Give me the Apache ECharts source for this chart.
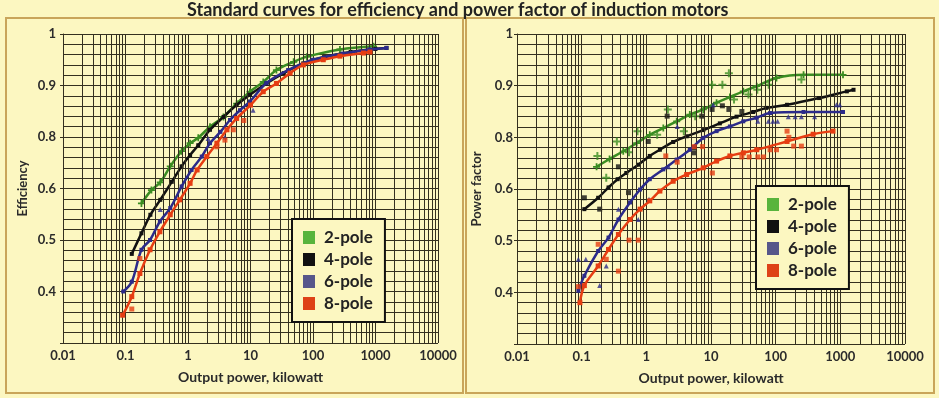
<!DOCTYPE html>
<html><head><meta charset="utf-8">
<script src="https://cdn.jsdelivr.net/npm/echarts@6/dist/echarts.min.js"></script>
<style>html,body{margin:0;padding:0;background:#fcf7c1}#c{width:939px;height:398px}</style>
</head><body><div id="c"></div>
<script>
// ---- data ----
const title = 'Standard curves for efficiency and power factor of induction motors';
const seriesNames = ['2-pole', '4-pole', '6-pole', '8-pole'];
const xTickLabels = ['0.01', '0.1', '1', '10', '100', '1000', '10000'];
const yTickVals = [0.3, 0.4, 0.5, 0.6, 0.8, 0.9, 1.0];
const yTickLabels = ['', '0.4', '0.5', '0.6', '0.8', '0.9', '1'];
const xName = 'Output power, kilowatt';
const yNameLeft = 'Efficiency';
const yNameRight = 'Power factor';

// Efficiency curves [kW, efficiency]
const eff2Curve = [[0.18,0.571],[0.26,0.597],[0.36,0.624],[0.52,0.686],[0.79,0.745],[1.08,0.776],[1.46,0.797],[2.25,0.82],[3.7,0.839],[6,0.865],[9.8,0.888],[16,0.907],[26,0.93],[49,0.946],[80,0.956],[270,0.97],[930,0.976]];
const eff4Curve = [[0.126,0.473],[0.18,0.513],[0.25,0.549],[0.36,0.578],[0.55,0.626],[0.79,0.686],[1.08,0.73],[1.46,0.768],[2.25,0.814],[3.7,0.839],[6,0.862],[9.8,0.882],[18,0.904],[34,0.924],[70,0.943],[150,0.955],[400,0.965],[1000,0.971],[1500,0.973]];
const eff6Curve = [[0.092,0.40],[0.126,0.419],[0.18,0.481],[0.247,0.50],[0.355,0.536],[0.52,0.562],[0.79,0.608],[1.14,0.672],[1.66,0.724],[2.25,0.776],[3.3,0.81],[4.7,0.833],[6.8,0.852],[9.8,0.869],[18,0.905],[40,0.93],[100,0.95],[300,0.962],[800,0.97],[1500,0.973]];
const eff8Curve = [[0.09,0.354],[0.126,0.39],[0.17,0.435],[0.247,0.481],[0.355,0.516],[0.52,0.549],[0.74,0.578],[1.08,0.62],[1.4,0.672],[2,0.724],[2.9,0.776],[4.2,0.814],[6,0.836],[10,0.862],[16,0.888],[26,0.904],[43,0.924],[70,0.94],[146,0.95],[270,0.957],[640,0.963],[815,0.965]];
const eff6Pts = [[0.36,0.559],[2.1,0.794],[3.9,0.80],[11,0.852]];
const eff8Pts = [[0.126,0.366],[0.17,0.464],[2.9,0.762],[3.9,0.788],[5.3,0.814],[7.8,0.832]];

// Power factor curves [kW, power factor]
const pf2Curve = [[0.17,0.686],[0.27,0.716],[0.44,0.746],[0.71,0.778],[1.13,0.805],[1.83,0.818],[2.95,0.831],[4.7,0.844],[7.6,0.854],[12.2,0.867],[19.6,0.878],[31.6,0.889],[51,0.899],[103,0.915],[270,0.921],[1100,0.921]];
const pf4Curve = [[0.11,0.561],[0.18,0.583],[0.26,0.606],[0.36,0.638],[0.49,0.662],[0.75,0.694],[1.13,0.728],[1.62,0.752],[2.6,0.782],[4.2,0.802],[7.6,0.814],[13.7,0.827],[24.8,0.84],[45,0.849],[72,0.857],[150,0.863],[470,0.876],[1260,0.889],[1600,0.892]];
const pf6Curve = [[0.089,0.403],[0.11,0.432],[0.18,0.48],[0.26,0.506],[0.37,0.541],[0.56,0.574],[0.8,0.599],[1.13,0.638],[1.83,0.676],[2.95,0.714],[4.7,0.752],[7.6,0.798],[12.2,0.812],[19.6,0.821],[31.6,0.831],[51,0.838],[82,0.847],[270,0.849],[1100,0.849]];
const pf8Curve = [[0.094,0.38],[0.11,0.413],[0.18,0.451],[0.26,0.483],[0.37,0.512],[0.56,0.541],[0.8,0.561],[1.13,0.577],[1.62,0.596],[2.6,0.63],[4.2,0.656],[7.6,0.682],[12.2,0.708],[19.6,0.728],[31.6,0.74],[51,0.752],[150,0.784],[380,0.806],[770,0.812]];
const pf2Pts = [[0.175,0.728],[0.24,0.644],[0.35,0.784],[0.54,0.742],[0.73,0.812],[1.47,0.805],[2.15,0.854],[3.8,0.812],[5.7,0.841],[10.4,0.902],[15,0.902],[18.9,0.924],[22.7,0.873],[38,0.883],[52,0.892],[78,0.902],[250,0.912]];
const pf4Pts = [[0.11,0.583],[0.19,0.561],[0.37,0.686],[0.53,0.593],[1.07,0.784],[2.1,0.841],[5.5,0.74],[5.5,0.76],[7.2,0.841],[10.4,0.854],[15,0.861],[18.9,0.854],[30,0.85]];
const pf6Pts = [[0.089,0.464],[0.116,0.464],[0.19,0.413],[0.24,0.451],[0.37,0.561],[0.75,0.541],[1.1,0.58],[2.2,0.686],[3.0,0.821],[10.8,0.863],[53,0.831],[77,0.831],[91,0.831],[107,0.831],[157,0.84],[200,0.84],[250,0.84],[400,0.84],[870,0.863],[980,0.863]];
const pf8Pts = [[0.089,0.411],[0.18,0.493],[0.24,0.464],[0.37,0.441],[0.54,0.501],[0.75,0.501],[2.0,0.728],[3.0,0.704],[5.5,0.764],[7.4,0.764],[10.5,0.662],[30,0.724],[39,0.724],[53,0.724],[65,0.724],[82,0.752],[103,0.752],[150,0.812],[160,0.8],[190,0.766],[250,0.766]];

const minorX = [];
for (let e = -2; e < 4; e++) for (let m = 2; m <= 9; m++) minorX.push(+(m * Math.pow(10, e)).toPrecision(3));

// ---- styling / scale helpers ----
const BG = '#fcf7c1';
const GRID = '#34301f';
const FONT = 'Lato';
const lineColors = ['#3a8c22', '#111111', '#2b2a8a', '#e63d12'];
const swatchColors = ['#58b43c', '#111111', '#57578a', '#de4216'];
const plusPath = 'path://M3,0H5V3H8V5H5V8H3V5H0V3H3Z';
const onLineSymbols = [plusPath, 'rect', 'rect', 'rect'];
const onLineSizes = [7, 4, 4, 5];
const ptSymbols = [plusPath, 'rect', 'triangle', 'rect'];
const ptSizes = [8, 5, 5, 5];

function toPos(v) {
  for (let i = 0; i < yTickVals.length - 1; i++) {
    if (v <= yTickVals[i + 1]) return i + (v - yTickVals[i]) / (yTickVals[i + 1] - yTickVals[i]);
  }
  return yTickVals.length - 1;
}
const conv = arr => arr.map(p => [p[0], toPos(p[1])]);

function xAxis(idx) {
  return {
    type: 'log', logBase: 10, min: 0.01, max: 10000, gridIndex: idx,
    axisLine: { show: false }, axisTick: { show: false },
    axisLabel: { fontFamily: FONT, fontWeight: 'bold', fontSize: 13, color: '#2b2b2b', margin: 6,
      formatter: v => xTickLabels[Math.round(Math.log10(v)) + 2] },
    splitLine: { show: true, lineStyle: { color: GRID, width: 1 } },
    name: xName, nameLocation: 'middle', nameGap: 27,
    nameTextStyle: { fontFamily: FONT, fontWeight: 'bold', fontSize: 14, color: '#2b2b2b' }
  };
}
function yAxis(idx, name, margin) {
  return {
    type: 'value', min: 0, max: 6, interval: 1, gridIndex: idx,
    axisLine: { show: true, lineStyle: { color: GRID } },
    axisTick: { show: true, length: 3, lineStyle: { color: GRID } },
    minorTick: { show: false, splitNumber: 5 },
    minorSplitLine: { show: true, lineStyle: { color: GRID, width: 1 } },
    splitLine: { show: true, lineStyle: { color: GRID, width: 1 } },
    axisLabel: { fontFamily: FONT, fontWeight: 'bold', fontSize: 13, color: '#2b2b2b', margin: margin,
      formatter: v => yTickLabels[Math.round(v)] },
    name: name, nameLocation: 'middle', nameGap: 34, nameRotate: 90,
    nameTextStyle: { fontFamily: FONT, fontWeight: 'bold', fontSize: 13, color: '#2b2b2b' }
  };
}

const series = [];
[0, 1].forEach(g => {
  series.push({
    type: 'line', xAxisIndex: g, yAxisIndex: g, data: [], z: 1, silent: true,
    markLine: { silent: true, symbol: 'none', animation: false, label: { show: false },
      lineStyle: { color: GRID, width: 1, type: 'solid' },
      data: minorX.map(x => ({ xAxis: x })) }
  });
});
const leftCurves = [eff2Curve, eff4Curve, eff6Curve, eff8Curve];
const leftPts = [[], [], eff6Pts, eff8Pts];
const rightCurves = [pf2Curve, pf4Curve, pf6Curve, pf8Curve];
const rightPts = [pf2Pts, pf4Pts, pf6Pts, pf8Pts];
[[leftCurves, leftPts], [rightCurves, rightPts]].forEach((set, g) => {
  seriesNames.forEach((nm, i) => {
    series.push({
      name: nm, type: 'line', xAxisIndex: g, yAxisIndex: g, smooth: 0.35,
      data: conv(set[0][i]), symbol: onLineSymbols[i], symbolSize: onLineSizes[i], showAllSymbol: true,
      lineStyle: { color: lineColors[i], width: 2.5 },
      itemStyle: { color: lineColors[i] }, z: 3 + i, animation: false
    });
    if (set[1][i].length) series.push({
      name: nm, type: 'scatter', xAxisIndex: g, yAxisIndex: g,
      data: conv(set[1][i]), symbol: ptSymbols[i], symbolSize: ptSizes[i],
      itemStyle: { color: lineColors[i] }, z: 3 + i, animation: false
    });
  });
});

function legend(left, top) {
  return {
    z: 20, left: left, top: top, orient: 'vertical', icon: 'rect', itemWidth: 12, itemHeight: 13,
    itemGap: 5, padding: [10, 12, 10, 11], backgroundColor: BG, borderColor: '#111', borderWidth: 2,
    itemStyle: { borderWidth: 0 },
    textStyle: { fontFamily: FONT, fontWeight: 'bold', fontSize: 17, lineHeight: 17, color: '#222', padding: [0, 0, 0, 4] },
    selectedMode: false,
    data: seriesNames.map((n, i) => ({ name: n, itemStyle: { color: swatchColors[i], borderWidth: 0 } }))
  };
}

const chart = echarts.init(document.getElementById('c'), null, { renderer: 'canvas' });
chart.setOption({
  backgroundColor: BG,
  animation: false,
  title: { text: title, left: 182, top: -4,
    textStyle: { fontFamily: FONT, fontWeight: 'bold', fontSize: 18, color: '#222' } },
  graphic: [
    { type: 'rect', shape: { x: 6, y: 18, width: 457, height: 375 }, style: { fill: null, stroke: '#c9a55a', lineWidth: 2 }, z: -1, silent: true },
    { type: 'rect', shape: { x: 466, y: 18, width: 468, height: 375 }, style: { fill: null, stroke: '#c9a55a', lineWidth: 2 }, z: -1, silent: true }
  ],
  grid: [
    { left: 63, right: 501, top: 34, bottom: 55 },
    { left: 517, right: 34, top: 34, bottom: 54 }
  ],
  xAxis: [xAxis(0), xAxis(1)],
  yAxis: [yAxis(0, yNameLeft, 7), yAxis(1, yNameRight, 4)],
  legend: [legend(292, 219), legend(756, 186)],
  series: series
});
</script></body></html>
